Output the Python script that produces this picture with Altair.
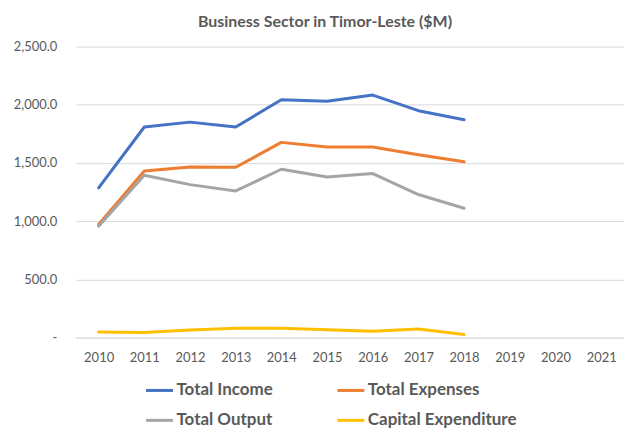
import altair as alt
import pandas as pd

years = [str(y) for y in range(2010, 2022)]
data_years = [str(y) for y in range(2010, 2019)]
total_income = [1286, 1809, 1851, 1809, 2043, 2031, 2083, 1949, 1871]
total_expenses = [971, 1431, 1466, 1463, 1677, 1637, 1637, 1571, 1511]
total_output = [957, 1394, 1314, 1260, 1446, 1380, 1409, 1229, 1111]
capital_expenditure = [48, 43, 66, 80, 80, 68, 54, 74, 26]

series_names = ["Total Income", "Total Expenses", "Total Output", "Capital Expenditure"]
series_vals = [total_income, total_expenses, total_output, capital_expenditure]
colors = ["#4472C4", "#ED7D31", "#A5A5A5", "#FFC000"]

rows = []
for name, vals in zip(series_names, series_vals):
    for y, v in zip(data_years, vals):
        rows.append({"Year": y, "Value": v, "Series": name})
df = pd.DataFrame(rows)

FONT = "Lato"
GRAY = "#595959"

chart = alt.Chart(df).mark_line(strokeWidth=3, strokeCap="round", strokeJoin="round").encode(
    x=alt.X("Year:O", scale=alt.Scale(domain=years, type="point", padding=0.5),
            axis=alt.Axis(title=None, labelAngle=0, ticks=False, domainColor="#D9D9D9",
                          labelColor=GRAY, labelFontSize=13, labelFont=FONT, labelPadding=14,
                          grid=False)),
    y=alt.Y("Value:Q", scale=alt.Scale(domain=[0, 2500], nice=False),
            axis=alt.Axis(title=None, values=[0, 500, 1000, 1500, 2000, 2500],
                          labelExpr="datum.value == 0 ? '-\u00a0\u00a0\u00a0' : format(datum.value, ',.1f')",
                          domain=False, ticks=False, gridColor="#D9D9D9", gridWidth=1,
                          labelColor=GRAY, labelFontSize=13, labelFont=FONT, labelPadding=19)),
    color=alt.Color("Series:N", scale=alt.Scale(domain=series_names, range=colors),
                    legend=alt.Legend(title=None, orient="none", legendX=69, legendY=330,
                                      direction="horizontal",
                                      columns=2, symbolType="stroke", symbolSize=729,
                                      symbolStrokeWidth=3, labelFontSize=17, labelFont=FONT,
                                      labelFontWeight="bold", labelColor=GRAY, labelOffset=2,
                                      rowPadding=7, columnPadding=58, labelLimit=300)),
).properties(
    width=550, height=292,
    title=alt.TitleParams("Business Sector in Timor-Leste ($M)", font=FONT, fontSize=16,
                          fontWeight="bold", color=GRAY, dx=-25, offset=11),
    autosize=alt.AutoSizeParams(type="none"),
    padding={"left": 68, "top": 38, "right": 0, "bottom": 90},
).configure_view(stroke=None)

chart.save("out.html", embed_options={"renderer": "svg", "actions": False})
